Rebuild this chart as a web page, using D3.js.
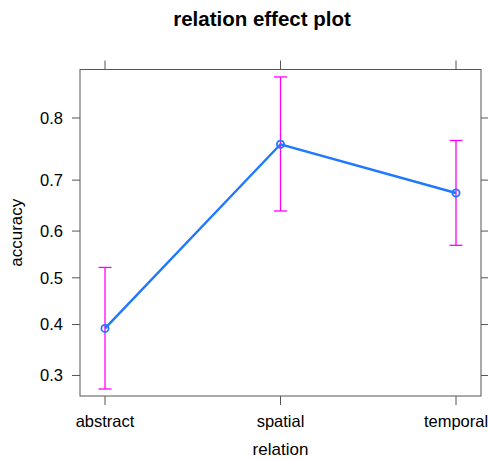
<!DOCTYPE html>
<html><head><meta charset="utf-8">
<script src="https://cdn.jsdelivr.net/npm/d3@7"></script>
<style>body{margin:0;background:#fff}text{font-family:"Liberation Sans",Arial,sans-serif;fill:#000}</style>
</head><body>
<svg id="c" width="488" height="459"></svg>
<script>
const categories = ["abstract", "spatial", "temporal"];
const fitValues = [0.392, 0.761, 0.676];
const lowerValues = [0.276, 0.641, 0.570];
const upperValues = [0.5225, 0.851, 0.767];
const yTicks = [0.3, 0.4, 0.5, 0.6, 0.7, 0.8];
const yDomain = [0.264, 0.859];

const svg = d3.select("#c");
const L = 80, R = 481, T = 69.5, B = 396;
const logit = p => Math.log(p / (1 - p));
const ylin = d3.scaleLinear().domain(yDomain.map(logit)).range([B, T]);
const y = p => ylin(logit(p));
const x = d3.scalePoint().domain(categories).range([105, 456]);

// frame
svg.append("rect").attr("x", L).attr("y", T).attr("width", R - L).attr("height", B - T)
  .attr("fill", "none").attr("stroke", "#555").attr("stroke-width", 1);

const g = svg.append("g").attr("stroke", "#555").attr("stroke-width", 1);
categories.forEach(c => {
  g.append("line").attr("x1", x(c)).attr("x2", x(c)).attr("y1", T).attr("y2", T - 9);
  g.append("line").attr("x1", x(c)).attr("x2", x(c)).attr("y1", B).attr("y2", B + 9);
});
yTicks.forEach(t => {
  g.append("line").attr("x1", L).attr("x2", L - 8).attr("y1", y(t)).attr("y2", y(t));
  g.append("line").attr("x1", R).attr("x2", R + 8).attr("y1", y(t)).attr("y2", y(t));
});

// tick labels
svg.selectAll(".yt").data(yTicks).enter().append("text")
  .attr("x", 63).attr("y", d => y(d)).attr("dy", "0.36em").attr("text-anchor", "end")
  .attr("font-size", 16.5).text(d => d3.format(".1f")(d));
svg.selectAll(".xt").data(categories).enter().append("text")
  .attr("x", d => x(d)).attr("y", 427).attr("text-anchor", "middle")
  .attr("font-size", 16.5).text(d => d);

// labels
svg.append("text").attr("x", 262).attr("y", 26).attr("text-anchor", "middle")
  .attr("font-size", 20.5).attr("font-weight", "bold").text("relation effect plot");
svg.append("text").attr("x", x("spatial")).attr("y", 455).attr("text-anchor", "middle")
  .attr("font-size", 17).text("relation");
svg.append("text").attr("transform", `translate(21.5,${(T + B) / 2}) rotate(-90)`)
  .attr("text-anchor", "middle").attr("font-size", 17).text("accuracy");

// error bars
const mag = "#ff00ff";
const eb = svg.append("g").attr("stroke", mag).attr("stroke-width", 1.3);
categories.forEach((c, i) => {
  eb.append("line").attr("x1", x(c)).attr("x2", x(c)).attr("y1", y(lowerValues[i])).attr("y2", y(upperValues[i]));
  [lowerValues[i], upperValues[i]].forEach(v => {
    eb.append("line").attr("x1", x(c) - 6.5).attr("x2", x(c) + 6.5).attr("y1", y(v)).attr("y2", y(v));
  });
});

// line
const blue = "#1f78ff";
svg.append("path").datum(categories.map((c, i) => [x(c), y(fitValues[i])]))
  .attr("d", d3.line()).attr("fill", "none").attr("stroke", blue).attr("stroke-width", 2.4);
svg.selectAll(".pt").data(categories).enter().append("circle")
  .attr("cx", d => x(d)).attr("cy", (d, i) => y(fitValues[i])).attr("r", 3.6)
  .attr("fill", "none").attr("stroke", blue).attr("stroke-width", 1.8);
</script>
</body></html>
